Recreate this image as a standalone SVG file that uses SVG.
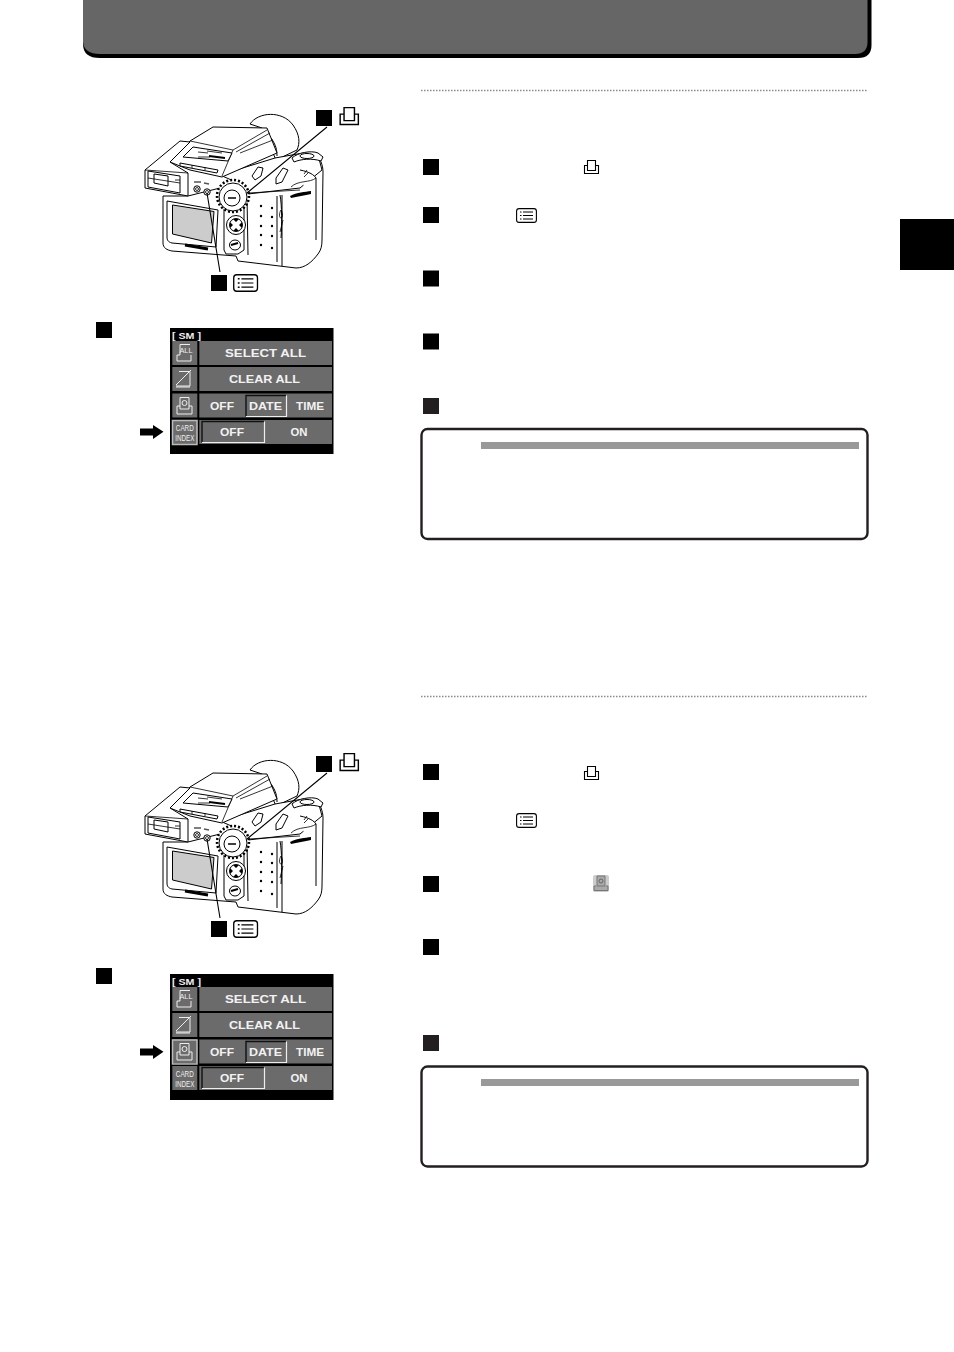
<svg xmlns="http://www.w3.org/2000/svg" width="954" height="1352" viewBox="0 0 954 1352">
<style>
.num{fill:#000}
.num2{fill:#231f20}
.dot{stroke:#8a8a8a;stroke-width:1.3;stroke-dasharray:1.5 1.5;fill:none}
.note{fill:#fff;stroke:#231f20;stroke-width:2.4}
.bar{fill:#999}
.ic{fill:none;stroke:#000;stroke-width:1.1}
.c{fill:#fff;stroke:#000;stroke-width:1;stroke-linejoin:round}
.l{fill:none;stroke:#000;stroke-width:.8}
.t{stroke:#000;stroke-width:1.1;fill:none}
.cell{fill:#6b6b6b}
.st{font-family:"Liberation Sans",sans-serif;font-weight:700;font-size:10.500px;fill:#f2f2f2;text-anchor:middle}
.si{fill:none;stroke:#eee;stroke-width:1}
</style>
<defs>
<g id="print"><path class="ic" d="M3.5,.5H11.5V10.5H3.5ZM3.5,5.5H.5V13.5H14.5V5.5H11.5"/></g>
<g id="menu"><rect class="ic" x=".6" y=".6" width="19.8" height="13.8" rx="2.5"/><path d="M4,4H5.5M4,7.5H5.5M4,11H5.500" stroke="#000" stroke-width="1.2"/><path d="M7,4H17M7,7.5H17M7,11H17" stroke="#000" stroke-width="1"/></g>
<g id="camera">
<path class="c" d="M250,124C258,112 282,110 293,125C300,135 300,143 297,150L276,160L262,128Z"/>
<path class="c" d="M271,138C276,145 277,150 277,156"/>
<path class="c" d="M163,196V243C163,248 167,250 172,251L236,256L238,261L296,268C305,268 312,262 318,254C321,250 322,246 322,240L323,172C323,165 320,158 316,154L300,155L280,160L220,188L188,196Z"/>
<path class="c" d="M220,175L275,158L303,153L318,155L322,170L300,188L248,194L236,182Z"/>
<path class="c" d="M170,162L190,141L213,127L267,128L277,153L222,177L190,170Z"/>
<path class="l" d="M190,141L233,150L222,176M233,150L267,130M236,152L270,133M240,153L273,140"/>
<path class="c" d="M183,157L193,147L232,153L228,161Z"/>
<path class="l" d="M198,152L208,153M207,151L222,153M198,157H210"/>
<path d="M209,156L225,158" stroke="#000" stroke-width="2"/>
<path class="c" d="M180,163L218,170L217,173L180,166Z"/>
<path class="l" d="M192,165V168M205,167V170"/>
<path class="c" d="M145,170L180,141L190,142L170,162L188,173V196L145,188Z"/>
<path class="c" d="M148,171L180,176V193L148,187Z"/>
<path class="c" d="M154,174L168,176V186L154,183Z"/>
<path class="l" d="M145,170L188,173M175,180H180M148,178L180,183"/>
<circle class="c" cx="197" cy="189" r="3.2"/><circle class="l" cx="197" cy="189" r="1.5"/>
<circle class="c" cx="207" cy="192" r="3.2"/><circle class="l" cx="207" cy="192" r="1.5"/>
<path d="M194,182H201M204,183L209,184" stroke="#555" stroke-width="1.500"/>
<path class="c" d="M167,201L218,210L216,247L172,243C168,242 167,240 167,237Z"/>
<path d="M172.500,205L214,211.500L211.500,243L172.500,234Z" fill="#ccc" stroke="#000" stroke-width="1"/>
<path d="M185,245L208,249" stroke="#000" stroke-width="3"/>
<path class="c" d="M224,205V250L226,254H238L244,250V208Z"/>
<path class="c" d="M247,196L248,255M277,196V262M282,195V266M300,170C310,172 314,175 316,178V240M280,195C282,205 282,225 281,238"/>
<path class="l" d="M248,193L300,190M291,187C298,180 310,183 316,178"/>
<path d="M290,196C297,192 305,192 311,191L311,194C305,195 297,197 291,198Z" fill="#000"/>
<path class="l" d="M281,210C283,213 283,218 281,218C279,218 279,213 281,210ZM283,220L280,232"/>
<g fill="#000"><circle cx="261" cy="206" r="1.2"/><circle cx="272" cy="208" r="1.200"/><circle cx="261" cy="216" r="1.200"/><circle cx="272" cy="217" r="1.200"/><circle cx="261" cy="226" r="1.200"/><circle cx="272" cy="226" r="1.200"/><circle cx="261" cy="235" r="1.200"/><circle cx="272" cy="236" r="1.200"/><circle cx="261" cy="245" r="1.200"/><circle cx="272" cy="248" r="1.200"/></g>
<circle cx="233" cy="196" r="16" fill="#fff" stroke="#000" stroke-width="2.500" stroke-dasharray="2 2"/>
<circle class="c" cx="233" cy="197" r="14"/>
<circle class="c" cx="232" cy="198" r="8"/>
<path d="M228,198H236" stroke="#000" stroke-width="1.500"/>
<circle class="c" cx="236" cy="225" r="9.500"/><circle class="c" cx="236" cy="225" r="6.500"/>
<path d="M233,219L239,219L236,222ZM233,231L239,231L236,228ZM230,222V228L233,225ZM242,222V228L239,225Z" fill="#000"/>
<ellipse class="c" cx="235" cy="245" rx="5.500" ry="5"/>
<path d="M231,245L238,243" stroke="#000" stroke-width="2"/>
<path class="c" d="M292,158C297,153 311,150 318,153L323,157L321,161C312,158 301,159 294,162Z"/>
<ellipse class="c" cx="307" cy="156" rx="7" ry="2.500"/>
<path class="c" d="M252,176L258,167L263,168L261,176L255,180ZM276,178L283,168L288,170L282,182L276,184Z"/>
<path class="l" d="M304,177L308,173M307,170L304,174"/>
<path class="t" d="M327,127L247,193M207,193L220,272"/>
</g>
<g id="screen">
<rect x="170" y="328" width="163.500" height="126" fill="#000"/>
<text x="172" y="339" font-family="Liberation Sans,sans-serif" font-weight="700" font-size="9" fill="#eee" textLength="29" lengthAdjust="spacingAndGlyphs">[ SM ]</text>
<rect class="cell" x="172.300" y="341" width="25" height="24"/><rect class="cell" x="199.300" y="341" width="132.700" height="24"/>
<rect class="cell" x="172.300" y="367" width="25" height="24"/><rect class="cell" x="199.300" y="367" width="132.700" height="24"/>
<rect class="cell" x="172.300" y="393.500" width="25" height="24"/><rect class="cell" x="199.300" y="393.500" width="132.700" height="24"/>
<rect class="cell" x="172.300" y="420" width="25" height="24"/><rect class="cell" x="199.300" y="420" width="132.700" height="24"/>
<text class="st" x="265.500" y="356.500" textLength="81" lengthAdjust="spacingAndGlyphs">SELECT ALL</text>
<text class="st" x="264.500" y="383" textLength="71" lengthAdjust="spacingAndGlyphs">CLEAR ALL</text>
<text class="st" x="222" y="409.500" textLength="24" lengthAdjust="spacingAndGlyphs">OFF</text>
<text class="st" x="265.500" y="409.500" textLength="33" lengthAdjust="spacingAndGlyphs">DATE</text>
<text class="st" x="310" y="409.500" textLength="28" lengthAdjust="spacingAndGlyphs">TIME</text>
<text class="st" x="232" y="435.500" textLength="24" lengthAdjust="spacingAndGlyphs">OFF</text>
<text class="st" x="299" y="435.500" textLength="17" lengthAdjust="spacingAndGlyphs">ON</text>
<path d="M246,416.500V395.500H286" fill="none" stroke="#111" stroke-width="1.400"/><path d="M286.500,395.500V416.500H246" fill="none" stroke="#eee" stroke-width="1.200"/>
<path d="M202,442.500V421.500H264" fill="none" stroke="#111" stroke-width="1.400"/><path d="M264.500,421.500V442.500H202" fill="none" stroke="#eee" stroke-width="1.200"/>
<path class="si" d="M180,344.500H190M180,344.500V355M180,355H177V361H191V355"/>
<text x="186" y="353" font-family="Liberation Sans,sans-serif" font-size="8" fill="#eee" text-anchor="middle" textLength="13" lengthAdjust="spacingAndGlyphs">ALL</text>
<path class="si" d="M179,371.500L190,371.500V386H176M176,385L191,370M176,387H190"/>
<path class="si" d="M180,397.500H189V409H180ZM180,406H177V414H192V406H189"/><circle class="si" cx="184.500" cy="403" r="2.500"/>
<text font-family="Liberation Sans,sans-serif" font-size="9" fill="#eee" text-anchor="middle"><tspan x="184.800" y="431" textLength="18" lengthAdjust="spacingAndGlyphs">CARD</tspan></text>
<text font-family="Liberation Sans,sans-serif" font-size="9" fill="#eee" text-anchor="middle" x="184.800" y="441" textLength="19" lengthAdjust="spacingAndGlyphs">INDEX</text>
</g>
<path id="arrow" d="M140,428.500H153V425L163.500,431.700L153,439V435.500H140Z" fill="#000"/>
</defs>

<g id="header"><path d="M83,-2H871.500V45Q871.500,58 858,58H100Q83,58 83,44Z" fill="#000"/><path d="M83,-2H867.500V42Q867.500,54 855,54H100Q84,54 83,42Z" fill="#666"/></g>
<rect id="side-tab" x="900" y="219" width="54" height="51" fill="#000"/>

<g id="camera-1"><use href="#camera"/><rect class="num" x="316" y="110" width="16" height="16"/><use href="#print" transform="translate(339.500,107) scale(1.300)"/><rect class="num" x="211" y="275" width="16" height="16"/><use href="#menu" transform="translate(233,274) scale(1.200)"/></g>
<g id="screen-1"><rect class="num" x="96" y="322" width="16" height="16"/><use href="#screen"/><rect x="172.500" y="420.500" width="24.500" height="24" fill="none" stroke="#bbb" stroke-width="1.500"/><use href="#arrow"/></g>

<g id="section-1">
<path class="dot" d="M421,90.500H868"/>
<rect class="num" x="423" y="159" width="16" height="16"/><use href="#print" transform="translate(584,160)"/>
<rect class="num" x="423" y="207" width="16" height="16"/><use href="#menu" transform="translate(516,208)"/>
<rect class="num" x="423" y="270.500" width="16" height="16"/>
<rect class="num" x="423" y="333.500" width="16" height="16"/>
<rect class="num2" x="423" y="398" width="16" height="16"/>
</g>
<g id="note-1"><rect class="note" x="421.500" y="429" width="446" height="110" rx="6"/><rect class="bar" x="481" y="442" width="378" height="7"/></g>

<g id="camera-2" transform="translate(0,646)"><use href="#camera"/><rect class="num" x="316" y="110" width="16" height="16"/><use href="#print" transform="translate(339.500,107) scale(1.300)"/><rect class="num" x="211" y="275" width="16" height="16"/><use href="#menu" transform="translate(233,274) scale(1.200)"/></g>
<g id="screen-2" transform="translate(0,646)"><rect class="num" x="96" y="322" width="16" height="16"/><use href="#screen"/><rect x="172.500" y="394" width="24.500" height="24" fill="none" stroke="#bbb" stroke-width="1.500"/><use href="#arrow" transform="translate(0,-26)"/></g>

<g id="section-2">
<path class="dot" d="M421,696.500H868"/>
<rect class="num" x="423" y="764" width="16" height="16"/><use href="#print" transform="translate(584,766)"/>
<rect class="num" x="423" y="812" width="16" height="16"/><use href="#menu" transform="translate(516,813)"/>
<rect class="num" x="423" y="876" width="16" height="16"/>
<g id="inline-icon"><rect x="593" y="875" width="16" height="17" rx="2" fill="#ccc"/><path d="M597,876H605V886H597ZM596,886H594V890.500H608V886H606" fill="#aaa" stroke="#777" stroke-width="1"/><circle cx="601" cy="881" r="2" fill="none" stroke="#666"/></g>
<rect class="num" x="423" y="939" width="16" height="16"/>
<rect class="num2" x="423" y="1035" width="16" height="16"/>
</g>
<g id="note-2"><rect class="note" x="421.500" y="1066.500" width="446" height="100" rx="6"/><rect class="bar" x="481" y="1079" width="378" height="7"/></g>
</svg>
